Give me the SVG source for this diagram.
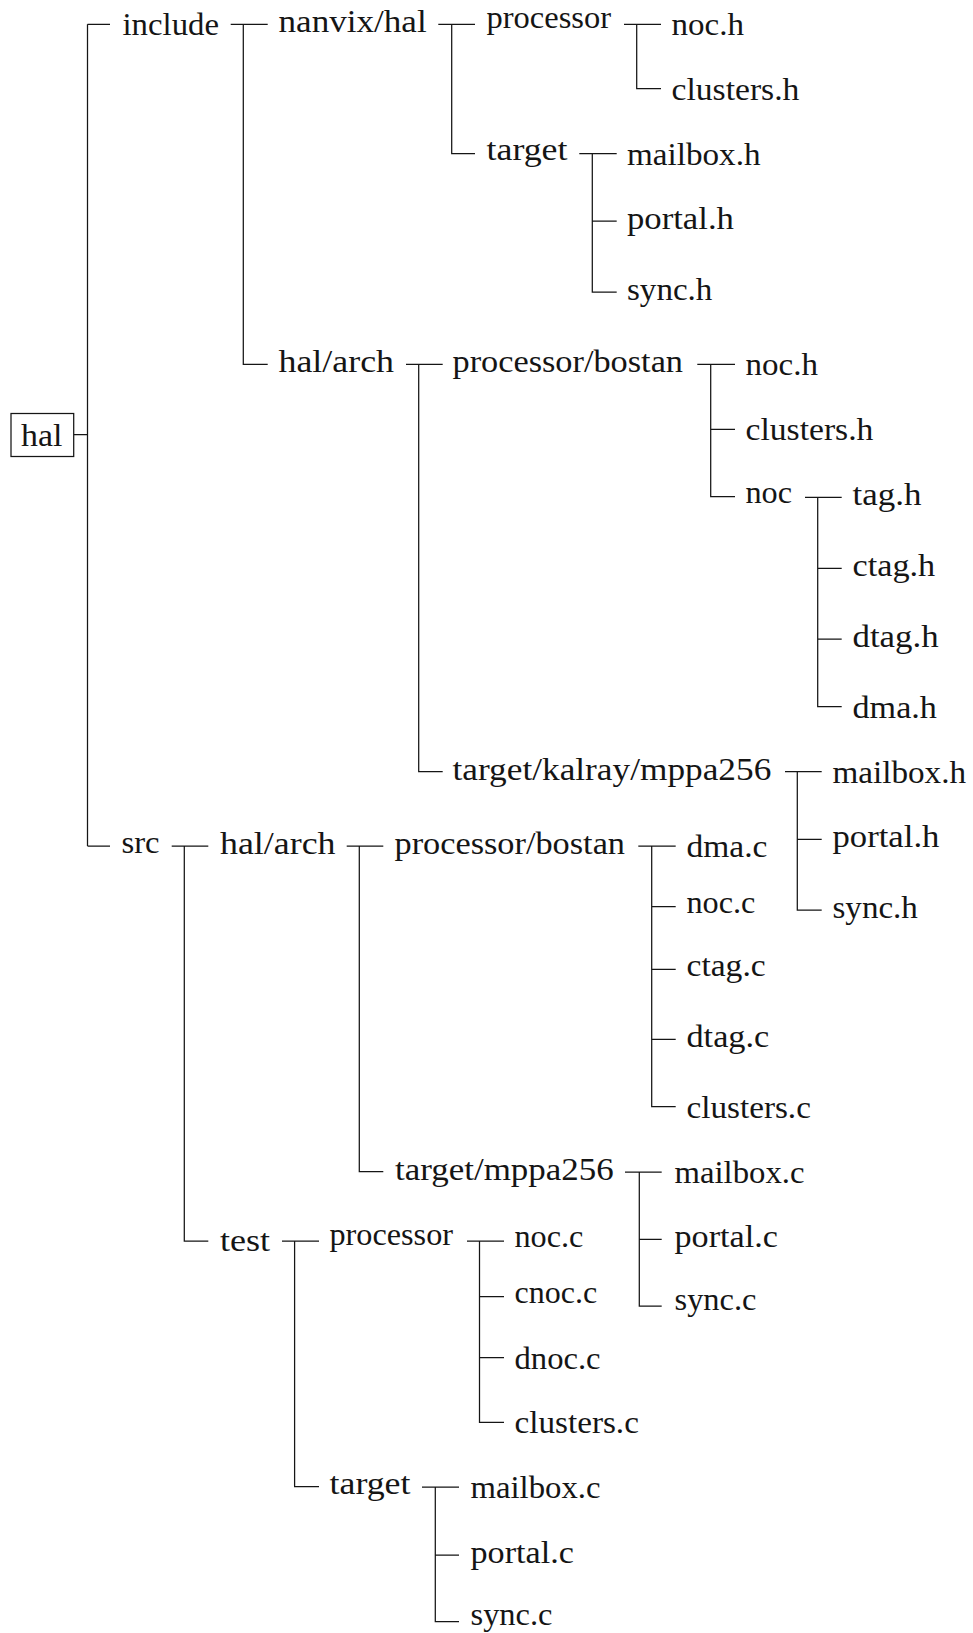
<svg xmlns="http://www.w3.org/2000/svg" width="973" height="1633" viewBox="0 0 973 1633">
  <style>
    .bg { fill: #ffffff; }
    .lbl { font-family: "Liberation Serif", "Times New Roman", serif; font-size: 32px; fill: #151515; }
    .edge { fill: none; stroke: #151515; stroke-width: 1.25; }
    .box { fill: #ffffff; stroke: #151515; stroke-width: 1.25; }
  </style>
  <rect class="bg" x="0" y="0" width="973" height="1633"/>

  <!-- tree connectors: one T-shaped fork per directory -->
  <g id="connectors">
    <!-- hal -->
    <path class="edge" d="M73.7 434.5 H87.5 M87.5 24.3 V846 M87.5 24.3 H110 M87.5 846 H110"/>
    <!-- include -->
    <path class="edge" d="M230.7 24.3 H267.7 M243.3 24.3 V364.3 H267.7"/>
    <!-- include/nanvix/hal -->
    <path class="edge" d="M438.3 24.3 H475 M451.7 24.3 V153.5 H475"/>
    <!-- nanvix/hal/processor -->
    <path class="edge" d="M624 24.3 H661 M636.7 24.3 V88.7 H661"/>
    <!-- nanvix/hal/target -->
    <path class="edge" d="M579.3 153.5 H616.7 M592.3 153.5 V292 H616.7 M592.3 221 H616.7"/>
    <!-- include/hal/arch -->
    <path class="edge" d="M406 364.3 H442.7 M418.7 364.3 V771.7 H442.7"/>
    <!-- processor/bostan (headers) -->
    <path class="edge" d="M697.3 364.3 H735 M710.7 364.3 V496.7 H735 M710.7 429.3 H735"/>
    <!-- noc -->
    <path class="edge" d="M805 497.3 H841.7 M817.7 497.3 V706.7 H841.7 M817.7 568.3 H841.7 M817.7 639 H841.7"/>
    <!-- target/kalray/mppa256 -->
    <path class="edge" d="M785 771.7 H821.7 M797.3 771.7 V910 H821.7 M797.3 839.3 H821.7"/>
    <!-- src -->
    <path class="edge" d="M171.7 846 H208.3 M184.3 846 V1241 H208.3"/>
    <!-- src/hal/arch -->
    <path class="edge" d="M346.7 846 H383.3 M359.3 846 V1171.7 H383.3"/>
    <!-- processor/bostan (sources) -->
    <path class="edge" d="M638.3 846 H675.7 M651.7 846 V1106.7 H675.7 M651.7 906.7 H675.7 M651.7 969.3 H675.7 M651.7 1039.3 H675.7"/>
    <!-- target/mppa256 -->
    <path class="edge" d="M625 1172 H661.7 M639.3 1172 V1306 H661.7 M639.3 1239.3 H661.7"/>
    <!-- test -->
    <path class="edge" d="M282 1241 H319 M294.6 1241 V1486.7 H319"/>
    <!-- test/processor -->
    <path class="edge" d="M467 1241 H504 M479.5 1241 V1422.3 H504 M479.5 1296.7 H504 M479.5 1357.7 H504"/>
    <!-- test/target -->
    <path class="edge" d="M422 1487 H459 M435.3 1487 V1621.7 H459 M435.3 1555 H459"/>
  </g>

  <!-- root -->
  <g id="n-hal">
    <rect class="box" x="11" y="413.5" width="62.7" height="43"/>
    <text class="lbl" x="21" y="446" textLength="41.4" lengthAdjust="spacingAndGlyphs">hal</text>
  </g>

  <!-- include tree -->
  <g id="n-include"><text class="lbl" x="122.5" y="35" textLength="96.5" lengthAdjust="spacingAndGlyphs">include</text></g>
  <g id="n-nanvix-hal"><text class="lbl" x="278.5" y="32.2" textLength="148.2" lengthAdjust="spacingAndGlyphs">nanvix/hal</text></g>
  <g id="n-nanvix-processor"><text class="lbl" x="486.5" y="28" textLength="124.5" lengthAdjust="spacingAndGlyphs">processor</text></g>
  <g id="n-nanvix-noc-h"><text class="lbl" x="671.5" y="35" textLength="72.4" lengthAdjust="spacingAndGlyphs">noc.h</text></g>
  <g id="n-nanvix-clusters-h"><text class="lbl" x="671.5" y="99.8" textLength="127.9" lengthAdjust="spacingAndGlyphs">clusters.h</text></g>
  <g id="n-nanvix-target"><text class="lbl" x="486.5" y="160.3" textLength="81" lengthAdjust="spacingAndGlyphs">target</text></g>
  <g id="n-nanvix-mailbox-h"><text class="lbl" x="627" y="164.6" textLength="133.5" lengthAdjust="spacingAndGlyphs">mailbox.h</text></g>
  <g id="n-nanvix-portal-h"><text class="lbl" x="627" y="228.8" textLength="106.9" lengthAdjust="spacingAndGlyphs">portal.h</text></g>
  <g id="n-nanvix-sync-h"><text class="lbl" x="627" y="299.8" textLength="85.4" lengthAdjust="spacingAndGlyphs">sync.h</text></g>

  <g id="n-inc-hal-arch"><text class="lbl" x="278.5" y="372.3" textLength="115.5" lengthAdjust="spacingAndGlyphs">hal/arch</text></g>
  <g id="n-inc-bostan"><text class="lbl" x="452.5" y="372.3" textLength="230.5" lengthAdjust="spacingAndGlyphs">processor/bostan</text></g>
  <g id="n-inc-noc-h"><text class="lbl" x="745.5" y="375.2" textLength="72.4" lengthAdjust="spacingAndGlyphs">noc.h</text></g>
  <g id="n-inc-clusters-h"><text class="lbl" x="745.5" y="440.1" textLength="127.9" lengthAdjust="spacingAndGlyphs">clusters.h</text></g>
  <g id="n-inc-noc"><text class="lbl" x="745.5" y="503.4" textLength="46.5" lengthAdjust="spacingAndGlyphs">noc</text></g>
  <g id="n-tag-h"><text class="lbl" x="852.5" y="505.3" textLength="68.9" lengthAdjust="spacingAndGlyphs">tag.h</text></g>
  <g id="n-ctag-h"><text class="lbl" x="852.5" y="576" textLength="82.7" lengthAdjust="spacingAndGlyphs">ctag.h</text></g>
  <g id="n-dtag-h"><text class="lbl" x="852.5" y="646.8" textLength="86.1" lengthAdjust="spacingAndGlyphs">dtag.h</text></g>
  <g id="n-dma-h"><text class="lbl" x="852.5" y="717.5" textLength="84.4" lengthAdjust="spacingAndGlyphs">dma.h</text></g>
  <g id="n-inc-kalray"><text class="lbl" x="452.5" y="780" textLength="318.8" lengthAdjust="spacingAndGlyphs">target/kalray/mppa256</text></g>
  <g id="n-kalray-mailbox-h"><text class="lbl" x="832.5" y="782.5" textLength="133.5" lengthAdjust="spacingAndGlyphs">mailbox.h</text></g>
  <g id="n-kalray-portal-h"><text class="lbl" x="832.5" y="847.2" textLength="106.9" lengthAdjust="spacingAndGlyphs">portal.h</text></g>
  <g id="n-kalray-sync-h"><text class="lbl" x="832.5" y="917.7" textLength="85.4" lengthAdjust="spacingAndGlyphs">sync.h</text></g>

  <!-- src tree -->
  <g id="n-src"><text class="lbl" x="121.5" y="852.8" textLength="38.1" lengthAdjust="spacingAndGlyphs">src</text></g>
  <g id="n-src-hal-arch"><text class="lbl" x="220" y="853.7" textLength="115.5" lengthAdjust="spacingAndGlyphs">hal/arch</text></g>
  <g id="n-src-bostan"><text class="lbl" x="394.5" y="853.7" textLength="230.5" lengthAdjust="spacingAndGlyphs">processor/bostan</text></g>
  <g id="n-dma-c"><text class="lbl" x="686.5" y="856.8" textLength="80.9" lengthAdjust="spacingAndGlyphs">dma.c</text></g>
  <g id="n-src-noc-c"><text class="lbl" x="686.5" y="913.4" textLength="68.9" lengthAdjust="spacingAndGlyphs">noc.c</text></g>
  <g id="n-ctag-c"><text class="lbl" x="686.5" y="975.8" textLength="79.2" lengthAdjust="spacingAndGlyphs">ctag.c</text></g>
  <g id="n-dtag-c"><text class="lbl" x="686.5" y="1047" textLength="82.7" lengthAdjust="spacingAndGlyphs">dtag.c</text></g>
  <g id="n-src-clusters-c"><text class="lbl" x="686.5" y="1117.5" textLength="124.4" lengthAdjust="spacingAndGlyphs">clusters.c</text></g>
  <g id="n-src-mppa256"><text class="lbl" x="395" y="1179.6" textLength="218.8" lengthAdjust="spacingAndGlyphs">target/mppa256</text></g>
  <g id="n-src-mailbox-c"><text class="lbl" x="674.5" y="1183" textLength="130" lengthAdjust="spacingAndGlyphs">mailbox.c</text></g>
  <g id="n-src-portal-c"><text class="lbl" x="674.5" y="1247.3" textLength="103.4" lengthAdjust="spacingAndGlyphs">portal.c</text></g>
  <g id="n-src-sync-c"><text class="lbl" x="674.5" y="1309.8" textLength="82" lengthAdjust="spacingAndGlyphs">sync.c</text></g>

  <!-- test tree -->
  <g id="n-test"><text class="lbl" x="220" y="1250.5" textLength="50.1" lengthAdjust="spacingAndGlyphs">test</text></g>
  <g id="n-test-processor"><text class="lbl" x="329.5" y="1245.3" textLength="123.5" lengthAdjust="spacingAndGlyphs">processor</text></g>
  <g id="n-test-noc-c"><text class="lbl" x="514.5" y="1247.4" textLength="68.9" lengthAdjust="spacingAndGlyphs">noc.c</text></g>
  <g id="n-test-cnoc-c"><text class="lbl" x="514.5" y="1303.4" textLength="82.6" lengthAdjust="spacingAndGlyphs">cnoc.c</text></g>
  <g id="n-test-dnoc-c"><text class="lbl" x="514.5" y="1368.5" textLength="86.1" lengthAdjust="spacingAndGlyphs">dnoc.c</text></g>
  <g id="n-test-clusters-c"><text class="lbl" x="514.5" y="1433.1" textLength="124.4" lengthAdjust="spacingAndGlyphs">clusters.c</text></g>
  <g id="n-test-target"><text class="lbl" x="329.5" y="1493.5" textLength="81" lengthAdjust="spacingAndGlyphs">target</text></g>
  <g id="n-test-mailbox-c"><text class="lbl" x="470.5" y="1497.8" textLength="130" lengthAdjust="spacingAndGlyphs">mailbox.c</text></g>
  <g id="n-test-portal-c"><text class="lbl" x="470.5" y="1562.8" textLength="103.4" lengthAdjust="spacingAndGlyphs">portal.c</text></g>
  <g id="n-test-sync-c"><text class="lbl" x="470.5" y="1625.4" textLength="82" lengthAdjust="spacingAndGlyphs">sync.c</text></g>
</svg>
